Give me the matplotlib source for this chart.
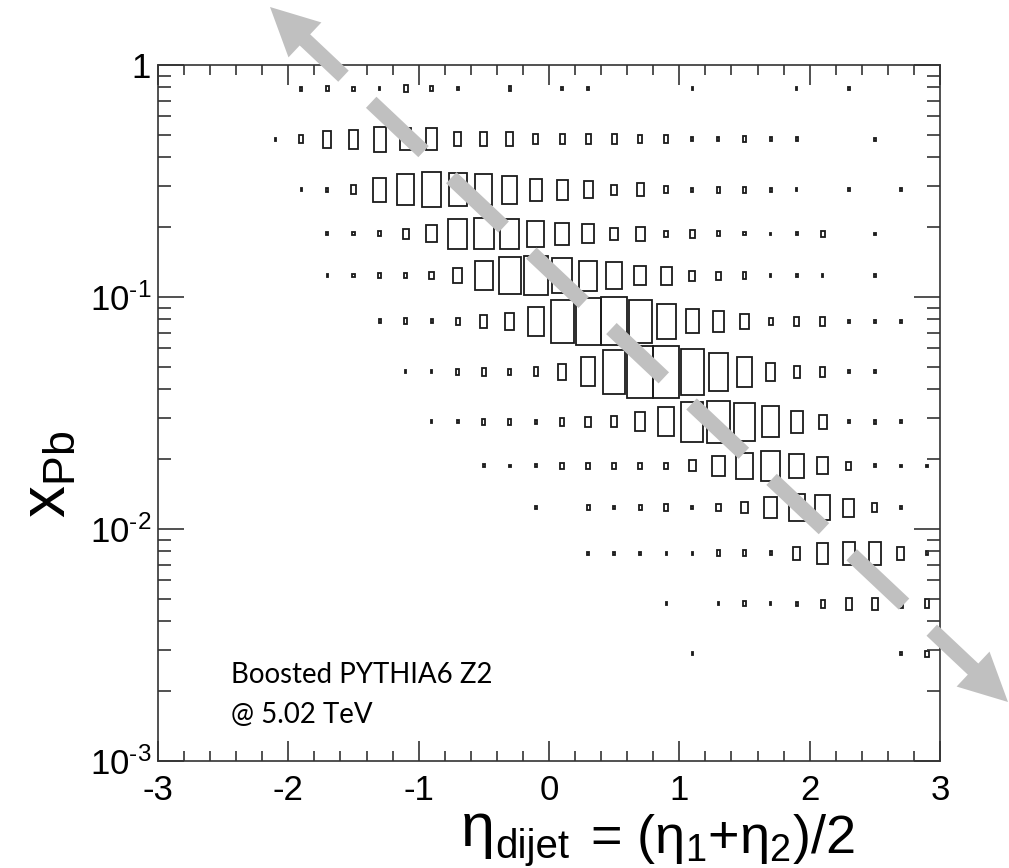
import numpy as np
import matplotlib
matplotlib.use('Agg')
import matplotlib.pyplot as plt
from matplotlib.patches import Rectangle, Polygon
from matplotlib.lines import Line2D
from matplotlib.ticker import MultipleLocator, LogLocator, FuncFormatter, NullFormatter

plt.rcParams['font.family'] = ['Liberation Sans', 'DejaVu Sans']
plt.rcParams['mathtext.fontset'] = 'custom'
plt.rcParams['mathtext.rm'] = 'Liberation Sans'
plt.rcParams['mathtext.it'] = 'Liberation Sans'
plt.rcParams['mathtext.bf'] = 'Liberation Sans:bold'
plt.rcParams['lines.scale_dashes'] = False
plt.rcParams['axes.unicode_minus'] = False

# eta_dijet bin edges (30 bins)
eta_edges = [-3.0, -2.8, -2.6, -2.4, -2.2, -2.0, -1.8, -1.6, -1.4, -1.2, -1.0,
             -0.8, -0.6, -0.4, -0.2, 0.0, 0.2, 0.4, 0.6, 0.8, 1.0,
             1.2, 1.4, 1.6, 1.8, 2.0, 2.2, 2.4, 2.6, 2.8, 3.0]

# x_Pb bin edges, top to bottom
xpb_edges = [1.0, 0.624, 0.367, 0.229, 0.153, 0.1, 0.0617, 0.0367,
             0.0229, 0.0153, 0.01, 0.00617, 0.00367, 0.00229]

# relative box size per bin (rows follow xpb_edges, columns follow eta_edges)
box_size = [
    [0, 0, 0, 0, 0, .08, .10, .08, .06, .15, .10, .06, 0, .10, 0, .06, .06, 0, 0, 0, .06, 0, 0, 0, .06, 0, .06, 0, 0, 0],
    [0, 0, 0, 0, .06, .15, .31, .35, .46, .42, .42, .27, .27, .27, .19, .19, .19, .19, .15, .15, .08, .08, .12, .08, .08, 0, 0, .06, 0, 0],
    [0, 0, 0, 0, 0, .06, .08, .19, .50, .65, .73, .69, .65, .58, .46, .42, .35, .21, .27, .15, .08, .12, .12, .08, .06, 0, .06, 0, .06, 0],
    [0, 0, 0, 0, 0, 0, .08, .08, .12, .23, .42, .73, .77, .73, .65, .54, .46, .31, .35, .15, .20, .12, .08, .06, .08, .15, 0, .06, 0, 0],
    [0, 0, 0, 0, 0, 0, .06, .08, .12, .12, .17, .35, .67, .85, .92, .80, .70, .62, .46, .42, .23, .19, .15, .06, .08, .06, 0, .06, 0, 0],
    [0, 0, 0, 0, 0, 0, 0, 0, .08, .12, .08, .15, .27, .35, .60, .88, .96, .98, .88, .73, .50, .42, .31, .15, .19, .19, .06, .06, .06, 0],
    [0, 0, 0, 0, 0, 0, 0, 0, 0, .06, .06, .12, .15, .12, .17, .30, .56, .85, 1.0, 1.0, .88, .73, .58, .35, .23, .19, .06, .06, 0, 0],
    [0, 0, 0, 0, 0, 0, 0, 0, 0, 0, .06, .06, .12, .12, .08, .17, .21, .23, .40, .62, .85, .88, .81, .65, .46, .30, .06, .08, .06, 0],
    [0, 0, 0, 0, 0, 0, 0, 0, 0, 0, 0, 0, .08, .06, .08, .15, .15, .15, .15, .15, .27, .48, .65, .73, .60, .42, .20, .08, .06, .06],
    [0, 0, 0, 0, 0, 0, 0, 0, 0, 0, 0, 0, 0, 0, .08, 0, .12, .08, .12, .15, .08, .17, .25, .50, .62, .58, .42, .20, .06, 0],
    [0, 0, 0, 0, 0, 0, 0, 0, 0, 0, 0, 0, 0, 0, 0, 0, .06, .06, .06, .06, .06, .12, .12, .08, .27, .42, .48, .46, .27, .08],
    [0, 0, 0, 0, 0, 0, 0, 0, 0, 0, 0, 0, 0, 0, 0, 0, 0, 0, 0, .06, 0, .06, .10, .06, .08, .15, .23, .23, .15, .17],
    [0, 0, 0, 0, 0, 0, 0, 0, 0, 0, 0, 0, 0, 0, 0, 0, 0, 0, 0, 0, .06, 0, 0, 0, 0, 0, 0, 0, .06, .12],
]

W, H = 1009, 868
fig = plt.figure(figsize=(W / 100, H / 100), dpi=100)
ax = fig.add_axes([158 / W, 1 - 761 / H, 782 / W, 696 / H])
ax.set_yscale('log')
ax.set_xlim(-3, 3)
ax.set_ylim(1e-3, 1)

# box plot (ROOT "BOX" style)
for r, row in enumerate(box_size):
    lo, hi = np.log10(xpb_edges[r + 1]), np.log10(xpb_edges[r])
    yc = (lo + hi) / 2
    for i, s in enumerate(row):
        if s <= 0:
            continue
        xc = (eta_edges[i] + eta_edges[i + 1]) / 2
        dx = s * (eta_edges[i + 1] - eta_edges[i])
        dy = s * (hi - lo)
        y0 = 10 ** (yc - dy / 2)
        y1 = 10 ** (yc + dy / 2)
        ax.add_patch(Rectangle((xc - dx / 2, y0), dx, y1 - y0, fill=False,
                               lw=1.3, ec='#1a1a1a'))

for sp in ax.spines.values():
    sp.set_linewidth(1.2)
    sp.set_color('#333333')

ax.xaxis.set_major_locator(MultipleLocator(1))
ax.xaxis.set_minor_locator(MultipleLocator(0.2))
ax.yaxis.set_major_locator(LogLocator(base=10, numticks=10))
ax.yaxis.set_minor_locator(LogLocator(base=10, subs=np.arange(2, 10), numticks=20))
ax.yaxis.set_minor_formatter(NullFormatter())


def ylab(v, pos):
    if abs(v - 1) < 1e-9:
        return '1'
    return r'$10^{\text{%d}}$' % int(round(np.log10(v)))


ax.yaxis.set_major_formatter(FuncFormatter(ylab))
ax.tick_params(which='both', direction='in', top=True, right=True, color='#333333', width=1.2)
ax.tick_params(axis='x', which='major', length=14.5, pad=9, labelsize=25)
ax.tick_params(axis='x', which='minor', length=7.5)
ax.tick_params(axis='y', which='major', length=19, pad=5, labelsize=25)
ax.tick_params(axis='y', which='minor', length=9.5)

# axis titles
fig.text(48 / W, 1 - 474 / H, r'x$_{\mathregular{Pb}}$', rotation=90, size=46,
         ha='center', va='center')
fig.text(461 / W, 1 - 846 / H, 'η', size=44, ha='left', va='baseline')
fig.text(495 / W, 1 - 858 / H, 'dijet', size=29, ha='left', va='baseline')
fig.text(590 / W, 1 - 853 / H, r'= (η$_1$+η$_2$)/2', size=39,
         ha='left', va='baseline')

# annotation
fig.text(231 / W, 1 - 683 / H, 'Boosted PYTHIA6 Z2', family='Lato', size=19.9,
         ha='left', va='baseline')
fig.text(231 / W, 1 - 723 / H, '@ 5.02 TeV', family='Lato', size=19.9,
         ha='left', va='baseline')

# gray dashed double arrow along the diagonal
p0 = np.array([270.0, 7.0])
p1 = np.array([1008.0, 702.0])
L = np.linalg.norm(p1 - p0)
d = (p1 - p0) / L
n = np.array([-d[1], d[0]])


def fpt(p):
    return (p[0] / W, 1 - p[1] / H)


gray = '#c0c0c0'
a = fpt(p0 + 29 * d)
b = fpt(p0 + 981 * d)
shaft = Line2D([a[0], b[0]], [a[1], b[1]], transform=fig.transFigure, color=gray,
               lw=11, dashes=(51.8, 27.4), dash_capstyle='butt', zorder=10)
fig.add_artist(shaft)
for tip, back in [(p0, p0 + 48 * d), (p1, p1 - 48 * d)]:
    pts = [fpt(tip), fpt(back + 24 * n), fpt(back - 24 * n)]
    fig.add_artist(Polygon(pts, closed=True, transform=fig.transFigure, fc=gray,
                           ec='none', zorder=10))

fig.savefig('out.png', dpi=100)
